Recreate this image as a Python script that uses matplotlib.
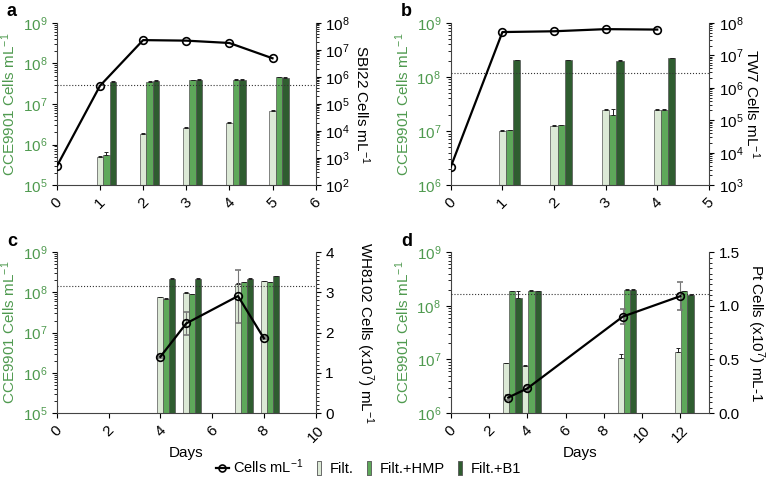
import matplotlib
matplotlib.use("Agg")
import matplotlib.pyplot as plt
from matplotlib.lines import Line2D
from matplotlib.ticker import (AutoMinorLocator, LogLocator, NullFormatter,
                               MultipleLocator, FormatStrFormatter)

plt.rcParams["font.family"] = ["Liberation Sans", "DejaVu Sans"]
plt.rcParams["mathtext.fontset"] = "custom"
plt.rcParams["mathtext.rm"] = "Liberation Sans"
plt.rcParams["mathtext.it"] = "Liberation Sans"

# a: SBI22
A_LINE_DAYS = [0, 1, 2, 3, 4, 5]
A_LINE = [5e2, 4.7e5, 2.3e7, 2.2e7, 1.8e7, 4.9e6]
A_BAR_DAYS = [1, 2, 3, 4, 5]
A_FILT = [4.9e5, 1.8e6, 2.5e6, 3.4e6, 6.7e6]
A_FILT_ERR = [3e4, 1.5e5, 1.5e5, 1.5e5, 5e5]
A_HMP = [5.5e5, 3.5e7, 3.8e7, 3.9e7, 4.6e7]
A_HMP_ERR = [1.2e5, 1.5e6, 1.5e6, 1.5e6, 1.5e6]
A_B1 = [3.5e7, 3.7e7, 3.9e7, 4.0e7, 4.4e7]
A_B1_ERR = [1e6, 1e6, 1.5e6, 1.5e6, 1e6]
A_REF = 2.95e7

# b: TW7
B_LINE_DAYS = [0, 1, 2, 3, 4]
B_LINE = [3.7e3, 5.2e7, 5.5e7, 6.4e7, 6.2e7]
B_BAR_DAYS = [1, 2, 3, 4]
B_FILT = [1.02e7, 1.26e7, 2.45e7, 2.5e7]
B_FILT_ERR = [2e5, 3e5, 6e5, 3e5]
B_HMP = [1.04e7, 1.27e7, 2.0e7, 2.5e7]
B_HMP_ERR = [2e5, 3e5, 6e6, 3e5]
B_B1 = [2.05e8, 2.05e8, 2.0e8, 2.2e8]
B_B1_ERR = [4e6, 4e6, 6e6, 5e6]
B_REF = 1.17e8

# c: WH8102 (right axis x10^7)
C_LINE_DAYS = [4, 5, 7, 8]
C_LINE = [1.40, 2.23, 2.91, 1.86]
C_LINE_ERR = [0.02, 0.29, 0.66, 0.02]
C_BAR_DAYS = [4, 5, 7, 8]
C_FILT = [7.6e7, 9.8e7, 1.66e8, 1.9e8]
C_FILT_ERR = [2e6, 3e6, 5e6, 4e6]
C_HMP = [6.9e7, 9.1e7, 1.77e8, 1.8e8]
C_HMP_ERR = [2e6, 3e6, 4e6, 4e6]
C_B1 = [2.2e8, 2.2e8, 2.2e8, 2.5e8]
C_B1_ERR = [6e6, 8e6, 6e6, 6e6]
C_REF = 1.44e8

# d: Pt (right axis x10^7)
D_LINE_DAYS = [3, 4, 9, 12]
D_LINE = [0.145, 0.23, 0.90, 1.09]
D_LINE_ERR = [0.02, 0.02, 0.07, 0.13]
D_BAR_DAYS = [3, 4, 9, 12]
D_FILT = [8.5e6, 7.6e6, 1.07e7, 1.35e7]
D_FILT_ERR = [2e5, 2e5, 2e6, 3e6]
D_HMP = [1.86e8, 1.9e8, 2.0e8, 1.86e8]
D_HMP_ERR = [4e6, 4e6, 4e6, 4e6]
D_B1 = [1.4e8, 1.86e8, 2.0e8, 1.6e8]
D_B1_ERR = [5e7, 5e6, 4e6, 4e6]
D_REF = 1.67e8

GREEN_TXT = "#4f9a4f"
C_FILT_COL = "#dce9d6"
C_HMP_COL = "#5ea85a"
C_B1_COL = "#2f5d30"


def draw_panel(rect, letter, line_days, line, bar_days, filt, hmp, b1, errs, ref,
               xlim, xstep, left_lim, right_lim, right_log, right_label,
               width, shift=0.0, line_err=None, xlabel=None, rlabel_x=1.18):
    ax = fig.add_axes(rect)
    fig.text(rect[0] - 0.065, rect[1] + rect[3] + 0.005, letter,
             fontsize=13, fontweight="bold", va="bottom")

    err_kw = dict(ecolor="#222222", elinewidth=0.7, capsize=1.5, capthick=0.7)
    for i, (vals, err, col) in enumerate(zip((filt, hmp, b1), errs,
                                             (C_FILT_COL, C_HMP_COL, C_B1_COL))):
        xs = [d + shift + i * width for d in bar_days]
        ax.bar(xs, vals, width=width, color=col, edgecolor="#555555",
               linewidth=0.5, yerr=[[0] * len(err), err], error_kw=err_kw, zorder=2)

    ax.set_yscale("log")
    ax.set_ylim(*left_lim)
    ax.set_xlim(*xlim)
    ax.axhline(ref, color="#333333", linestyle=":", linewidth=0.8, zorder=3)
    ax.xaxis.set_major_locator(MultipleLocator(xstep))
    ax.yaxis.set_major_locator(LogLocator(base=10, numticks=12))
    ax.yaxis.set_minor_locator(LogLocator(base=10, subs=range(2, 10), numticks=12))
    ax.yaxis.set_minor_formatter(NullFormatter())
    ax.tick_params(axis="y", colors="black", labelcolor=GREEN_TXT, labelsize=11)
    ax.tick_params(axis="x", labelsize=11, labelrotation=45)
    ax.set_ylabel("CCE9901 Cells mL$^{-1}$", color=GREEN_TXT, fontsize=11, labelpad=3)
    if xlabel:
        ax.set_xlabel(xlabel, fontsize=11, labelpad=1)
    ax.spines["top"].set_visible(False)
    ax.spines["right"].set_visible(False)
    for s in ("left", "bottom"):
        ax.spines[s].set_color("#444444")

    ax2 = ax.twinx()
    if right_log:
        ax2.set_yscale("log")
        ax2.yaxis.set_major_locator(LogLocator(base=10, numticks=12))
        ax2.yaxis.set_minor_locator(LogLocator(base=10, subs=range(2, 10), numticks=12))
        ax2.yaxis.set_minor_formatter(NullFormatter())
    else:
        ax2.yaxis.set_minor_locator(AutoMinorLocator(10))
    ax2.set_ylim(*right_lim)
    ax2.errorbar(line_days, line, yerr=line_err, color="black", linewidth=1.6,
                 marker="o", markersize=5.5, markerfacecolor="none",
                 markeredgewidth=1.2, ecolor="#777777", elinewidth=0.8,
                 capsize=2, zorder=5)
    ax2.tick_params(axis="y", labelsize=11)
    ax2.set_ylabel(right_label, rotation=-90, fontsize=11, va="center")
    ax2.yaxis.set_label_coords(rlabel_x, 0.5)
    ax2.spines["top"].set_visible(False)
    ax2.spines["left"].set_visible(False)
    ax2.spines["bottom"].set_visible(False)
    ax2.spines["right"].set_color("#444444")
    return ax, ax2


fig = plt.figure(figsize=(7.68, 4.86), dpi=100)

draw_panel([0.074, 0.619, 0.337, 0.334], "a", A_LINE_DAYS, A_LINE, A_BAR_DAYS,
           A_FILT, A_HMP, A_B1, (A_FILT_ERR, A_HMP_ERR, A_B1_ERR), A_REF,
           (0, 6), 1, (1e5, 1e9), (1e2, 1e8), True, "SBI22 Cells mL$^{-1}$",
           width=0.15, rlabel_x=1.18)

draw_panel([0.587, 0.619, 0.336, 0.334], "b", B_LINE_DAYS, B_LINE, B_BAR_DAYS,
           B_FILT, B_HMP, B_B1, (B_FILT_ERR, B_HMP_ERR, B_B1_ERR), B_REF,
           (0, 5), 1, (1e6, 1e9), (1e3, 1e8), True, "TW7 Cells mL$^{-1}$",
           width=0.14, rlabel_x=1.17)

axc, axc2 = draw_panel([0.074, 0.150, 0.337, 0.331], "c", C_LINE_DAYS, C_LINE, C_BAR_DAYS,
                       C_FILT, C_HMP, C_B1, (C_FILT_ERR, C_HMP_ERR, C_B1_ERR), C_REF,
                       (0, 10), 2, (1e5, 1e9), (0, 4), False,
                       "WH8102 Cells (x10$^{7}$) mL$^{-1}$",
                       width=0.23, line_err=C_LINE_ERR, xlabel="Days", rlabel_x=1.19)
axc2.yaxis.set_major_locator(MultipleLocator(1))

axd, axd2 = draw_panel([0.587, 0.150, 0.336, 0.331], "d", D_LINE_DAYS, D_LINE, D_BAR_DAYS,
                       D_FILT, D_HMP, D_B1, (D_FILT_ERR, D_HMP_ERR, D_B1_ERR), D_REF,
                       (0, 13.5), 2, (1e6, 1e9), (0, 1.5), False,
                       "Pt Cells (x10$^{7}$) mL-1",
                       width=0.32, shift=-0.1, line_err=D_LINE_ERR, xlabel="Days",
                       rlabel_x=1.18)
axd2.yaxis.set_major_locator(MultipleLocator(0.5))
axd2.yaxis.set_major_formatter(FormatStrFormatter("%.1f"))

# narrow upright box marker for the legend bars
BOX = [(-0.35, -1), (0.35, -1), (0.35, 1), (-0.35, 1), (-0.35, -1)]
handles = [
    Line2D([], [], color="black", linewidth=1.6, marker="o", markersize=5,
           markerfacecolor="none", markeredgewidth=1.2),
    Line2D([], [], linestyle="none", marker=BOX, markersize=10,
           markerfacecolor=C_FILT_COL, markeredgecolor="#555555", markeredgewidth=0.6),
    Line2D([], [], linestyle="none", marker=BOX, markersize=10,
           markerfacecolor=C_HMP_COL, markeredgecolor="#555555", markeredgewidth=0.6),
    Line2D([], [], linestyle="none", marker=BOX, markersize=10,
           markerfacecolor=C_B1_COL, markeredgecolor="#555555", markeredgewidth=0.6),
]
labels = ["Cells mL$^{-1}$", "Filt.", "Filt.+HMP", "Filt.+B1"]
fig.legend(handles, labels, loc="center", bbox_to_anchor=(0.48, 0.04), ncol=4,
           frameon=False, fontsize=10.5, handlelength=0.9, handletextpad=0.3,
           columnspacing=0.6)

fig.savefig("out.png", dpi=100)
